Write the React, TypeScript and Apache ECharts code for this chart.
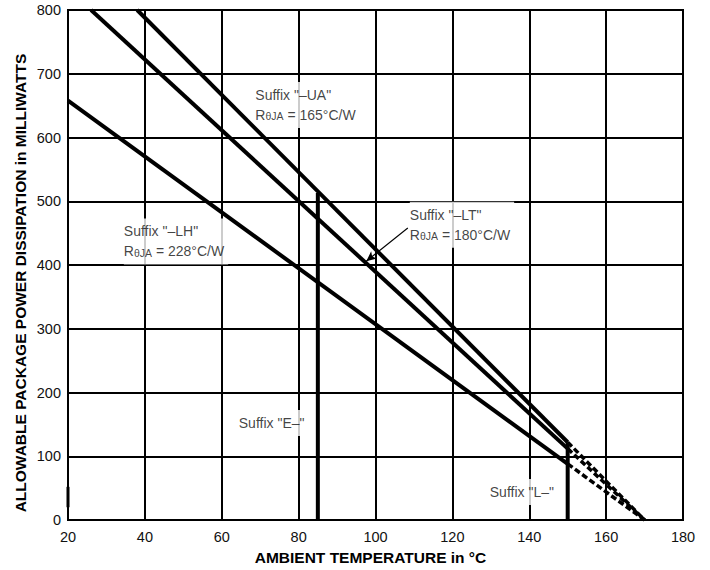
import React, { useEffect, useRef } from "react";
import * as echarts from "echarts";

// Derating curves: [ambient °C, power mW]
const curveUA: number[][] = [[38, 800], [150, 122]];
const curveUADash: number[][] = [[150, 122], [170, 0]];
const curveLT: number[][] = [[26, 800], [150, 112]];
const curveLTDash: number[][] = [[150, 112], [170, 0]];
const curveLH: number[][] = [[20, 658], [150, 88]];
const curveLHDash: number[][] = [[150, 88], [170, 0]];
const limitE: number[][] = [[85, 0], [85, 513]];
const limitL: number[][] = [[150, 0], [150, 122]];
const leftMark: number[][] = [[20, 20], [20, 52]];

const xTicks = { min: 20, max: 180, step: 20 };
const yTicks = { min: 0, max: 800, step: 100 };

// Annotation anchors (data coordinates, left/middle of the text)
const labelUA = [68.6, 651];
const labelLT = [108.8, 463];
const labelLH = [34.4, 437];
const labelE = [64.3, 152];
const labelL = [129.6, 44];
const arrowLT = [[108.4, 458], [97.6, 406]];

const FONT = "Liberation Sans, Arial, Helvetica, sans-serif";
const X_TITLE = "AMBIENT TEMPERATURE in °C";
const Y_TITLE = "ALLOWABLE PACKAGE POWER DISSIPATION in MILLIWATTS";

export default function App() {
  const ref = useRef<HTMLDivElement>(null);
  useEffect(() => {
    document.body.style.margin = "0";
    if (!ref.current) return;
    const chart = echarts.init(ref.current, null, { renderer: "svg" });
    const solid = (data: number[][], w = 4) => ({
      type: "line",
      data,
      symbol: "none",
      silent: true,
      lineStyle: { color: "#000", width: w, type: "solid", cap: "butt" },
      z: 5,
    });
    const dashed = (data: number[][]) => ({
      type: "line",
      data,
      symbol: "none",
      silent: true,
      lineStyle: { color: "#000", width: 3.5, type: [6, 3] },
      z: 5,
    });
    const rich = {
      a: { fontSize: 14, fontFamily: FONT, color: "#111", lineHeight: 20 },
      s: { fontSize: 10.5, fontFamily: FONT, color: "#111", lineHeight: 20, padding: [3, 0, 0, 0] },
    };
    const label = (coord: number[], formatter: string) => ({
      type: "scatter",
      data: [coord],
      symbolSize: 1,
      silent: true,
      itemStyle: { color: "rgba(0,0,0,0)" },
      z: 3,
      label: {
        show: true,
        position: "right",
        distance: 0,
        formatter,
        rich,
        backgroundColor: "#fff",
        padding: [3, 4, 3, 0],
      },
    });
    chart.setOption({
      animation: false,
      grid: {
        left: 68,
        right: 27,
        top: 10,
        bottom: 49,
        show: true,
        borderColor: "#000",
        borderWidth: 2,
      },
      graphic: [
        {
          type: "text",
          x: 20,
          y: 283,
          rotation: Math.PI / 2,
          style: {
            text: Y_TITLE,
            fontFamily: FONT,
            fontWeight: "bold",
            fontSize: 15.5,
            fill: "#000",
            align: "center",
            verticalAlign: "middle",
          },
        },
      ],
      xAxis: {
        type: "value",
        min: xTicks.min,
        max: xTicks.max,
        interval: xTicks.step,
        name: X_TITLE,
        nameLocation: "middle",
        nameGap: 29,
        nameTextStyle: { fontFamily: FONT, fontWeight: "bold", fontSize: 15.5, color: "#000", padding: [0, 10, 0, 0] },
        axisLine: { show: true, lineStyle: { color: "#000", width: 2 } },
        axisTick: { show: false },
        axisLabel: { fontFamily: FONT, fontSize: 14.5, color: "#111", margin: 9 },
        splitLine: { show: true, lineStyle: { color: "#000", width: 2 } },
      },
      yAxis: {
        type: "value",
        min: yTicks.min,
        max: yTicks.max,
        interval: yTicks.step,
        axisLine: { show: true, lineStyle: { color: "#000", width: 2 } },
        axisTick: { show: false },
        axisLabel: { fontFamily: FONT, fontSize: 14.5, color: "#111", margin: 7 },
        splitLine: { show: true, lineStyle: { color: "#000", width: 2 } },
      },
      series: [
        label(labelUA, '{a|Suffix "–UA"}\n{a|R}{s|θJA}{a| = 165°C/W}'),
        label(labelLT, '{a|Suffix "–LT"}\n{a|R}{s|θJA}{a| = 180°C/W}'),
        label(labelLH, '{a|Suffix "–LH"}\n{a|R}{s|θJA}{a| = 228°C/W}'),
        label(labelE, '{a|Suffix "E–"}'),
        label(labelL, '{a|Suffix "L–"}'),
        solid(curveUA),
        dashed(curveUADash),
        {
          ...solid(curveLT),
          markLine: {
            silent: true,
            symbol: ["none", "arrow"],
            symbolSize: [7, 10],
            label: { show: false },
            lineStyle: { color: "#000", width: 1.2, type: "solid" },
            data: [
              [
                { coord: arrowLT[0], symbol: "none" },
                { coord: arrowLT[1], symbol: "arrow" },
              ],
            ],
          },
        },
        dashed(curveLTDash),
        solid(curveLH),
        dashed(curveLHDash),
        solid(limitE, 4),
        solid(limitL, 4),
        solid(leftMark, 3),
      ],
    });
    return () => chart.dispose();
  }, []);
  return <div ref={ref} style={{ width: 710, height: 570 }} />;
}
